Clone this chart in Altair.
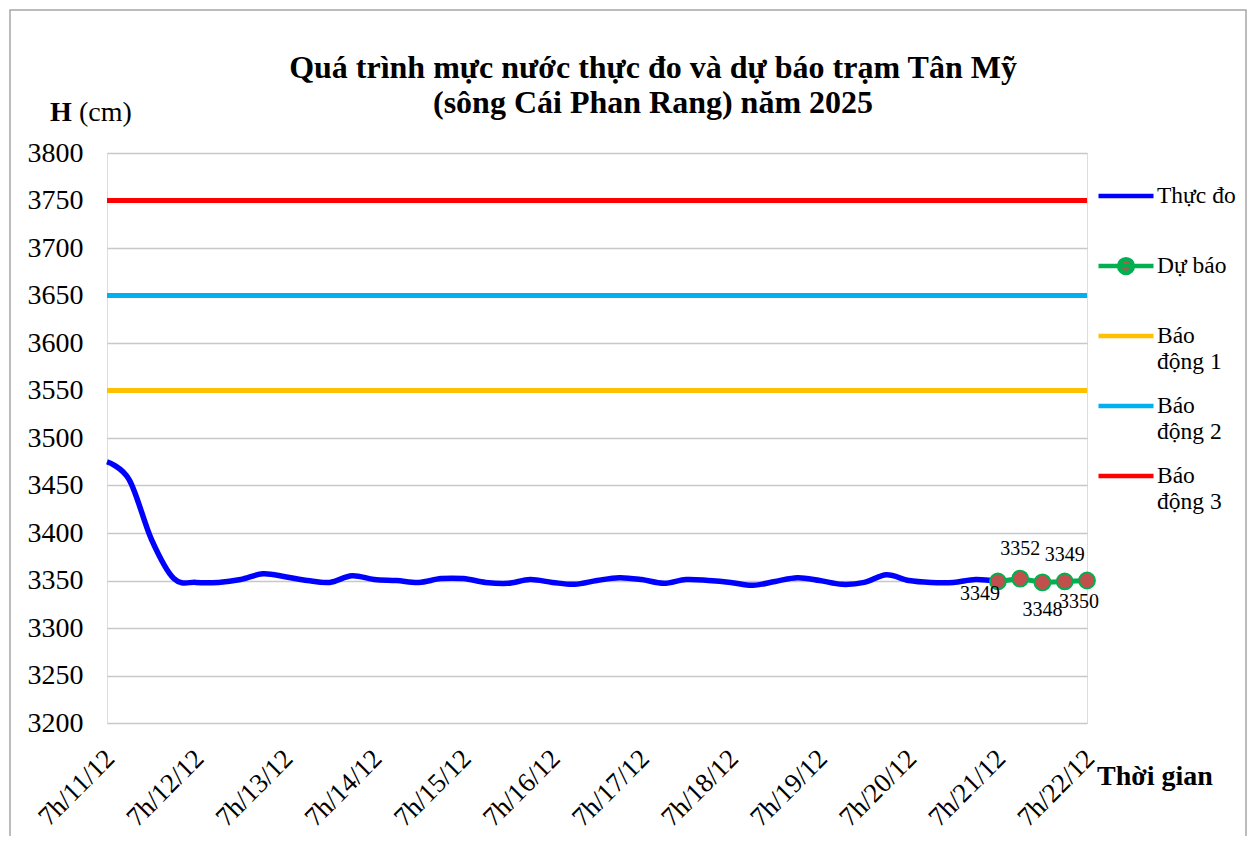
import altair as alt
import pandas as pd

# ---------------- data ----------------
tick_labels = ["7h/11/12", "7h/12/12", "7h/13/12", "7h/14/12", "7h/15/12", "7h/16/12",
               "7h/17/12", "7h/18/12", "7h/19/12", "7h/20/12", "7h/21/12", "7h/22/12"]
tick_hours = [0, 24, 48, 72, 96, 120, 144, 168, 192, 216, 240, 264]

obs_hours = list(range(0, 241, 6))
obs_values = [3475, 3456, 3393, 3352, 3348, 3348, 3351, 3357, 3354, 3350, 3348, 3355,
              3351, 3350, 3348, 3352, 3352, 3348, 3347, 3351, 3348, 3346, 3350, 3353,
              3351, 3347, 3351, 3350, 3348, 3345, 3349, 3353, 3350, 3346, 3348, 3356,
              3350, 3348, 3348, 3351, 3349]

fc_hours = [240, 246, 252, 258, 264]
fc_values = [3349, 3352, 3348, 3349, 3350]

alarm_names = ["Báo động 1", "Báo động 2", "Báo động 3"]
alarm_levels = [3550, 3650, 3750]

series_names = ["Thực đo", "Dự báo", "Báo động 1", "Báo động 2", "Báo động 3"]
series_colors = ["#0000FF", "#00B050", "#FFC000", "#00B0F0", "#FF0000"]
series_fills = ["transparent", "#C0504D", "transparent", "transparent", "transparent"]

title_lines = ["Quá trình mực nước thực đo và dự báo trạm Tân Mỹ",
               "(sông Cái Phan Rang) năm 2025"]

obs_df = pd.DataFrame({"h": obs_hours, "v": obs_values, "s": "Thực đo"})
fc_df = pd.DataFrame({"h": fc_hours, "v": fc_values, "s": "Dự báo", "k": range(len(fc_values))})
fc_df["lbl"] = fc_df["v"].astype(str)
al_df = pd.DataFrame({"v": alarm_levels, "s": alarm_names})
leg_df = pd.DataFrame({"s": series_names})

FONT = "Liberation Serif"

label_expr = "[" + ",".join("'%s'" % t for t in tick_labels) + "][round(datum.value/24)]"

x_enc = alt.X("h:Q",
              scale=alt.Scale(domain=[0, 264], nice=False, zero=False),
              axis=alt.Axis(values=tick_hours, labelExpr=label_expr, labelAngle=-45,
                            labelAlign="right", labelBaseline="middle", labelPadding=31,
                            labelOffset=3, labelFont=FONT, labelFontSize=27,
                            labelColor="black", grid=False, ticks=False, domain=False,
                            title=None, labelOverlap=False))
y_enc = alt.Y("v:Q",
              scale=alt.Scale(domain=[3200, 3800], nice=False, zero=False),
              axis=alt.Axis(values=list(range(3200, 3801, 50)), format="d", labelFont=FONT,
                            labelFontSize=28, labelColor="black", labelPadding=24,
                            grid=True, gridColor="#C8C8C8", gridWidth=1.3,
                            ticks=False, domain=False, title=None))

line_path = "M-1,0H1"
dot_path = "M-1,0H1M0.25,0A0.25,0.25,0,1,1,-0.25,0A0.25,0.25,0,1,1,0.25,0"
series_shapes = [line_path, dot_path, line_path, line_path, line_path]

legend = alt.Legend(
    title=None, orient="none", legendX=989, legendY=13,
    symbolSize=3025, symbolStrokeWidth=4.5, symbolOpacity=1,
    labelFont=FONT, labelFontSize=23.5, labelColor="black", labelLimit=0,
    labelOffset=1, rowPadding=3, labelBaseline="middle",
    labelExpr="(datum.label == 'Thực đo' || datum.label == 'Dự báo') ? [datum.label, ''] : ['Báo', slice(datum.label, 4)]",
)

stroke_enc = alt.Stroke("s:N", scale=alt.Scale(domain=series_names, range=series_colors),
                        legend=legend)
fill_enc = alt.Fill("s:N", scale=alt.Scale(domain=series_names, range=series_fills),
                    legend=legend)
shape_enc = alt.Shape("s:N", scale=alt.Scale(domain=series_names, range=series_shapes),
                      legend=legend)

alarms = alt.Chart(al_df).mark_rule(strokeWidth=5).encode(y=y_enc, stroke=stroke_enc)

obs_line = alt.Chart(obs_df).mark_line(strokeWidth=5.5, interpolate="cardinal").encode(
    x=x_enc, y=y_enc, stroke=stroke_enc)

fc_line = alt.Chart(fc_df).mark_line(strokeWidth=5).encode(x=x_enc, y=y_enc, stroke=stroke_enc)
fc_pts = alt.Chart(fc_df).mark_point(filled=True, fill="#C0504D", stroke="#00B050",
                                     strokeWidth=2, size=250, opacity=1).encode(x=x_enc, y=y_enc)

# legend-only layer (draws nothing; provides the merged legend symbols)
leg_layer = alt.Chart(leg_df).transform_filter("false").mark_point(
    opacity=1, strokeWidth=4.5).encode(stroke=stroke_enc, fill=fill_enc, shape=shape_enc)

def lab(filt, dx, dy):
    return alt.Chart(fc_df).transform_filter(filt).mark_text(
        font=FONT, fontSize=20, color="black", dx=dx, dy=dy).encode(
        x=x_enc, y=y_enc, text="lbl:N")

labels = [lab("datum.k == 0", -18, 13), lab("datum.k == 1", 0, -30),
          lab("datum.k == 2", 0, 28), lab("datum.k == 3", 0, -26),
          lab("datum.k == 4", -8, 21)]

one = pd.DataFrame({"a": [0]})

def ann(text, x, y, size=28, weight="normal", align="left", baseline="alphabetic"):
    return alt.Chart(one).mark_text(text=text, font=FONT, fontSize=size, fontWeight=weight,
                                    align=align, baseline=baseline, color="black").encode(
        x=alt.value(x), y=alt.value(y))

title1 = ann(title_lines[0], 546, -85, size=32, weight="bold", align="center", baseline="middle")
title2 = ann(title_lines[1], 546, -50, size=32, weight="bold", align="center", baseline="middle")
h_txt = ann("H", -57, -32, weight="bold")
cm_txt = ann("(cm)", -28, -32)
tg_txt = ann("Thời gian", 990, 632, weight="bold")

border = alt.Chart(one).mark_rect(fill="transparent", stroke="#A6A6A6", strokeWidth=1.5).encode(
    x=alt.value(-97), x2=alt.value(1139), y=alt.value(-143), y2=alt.value(720))

chart = alt.layer(border, alarms, obs_line, fc_line, fc_pts, leg_layer, *labels,
                  title1, title2, h_txt, cm_txt, tg_txt).properties(
    width=980, height=570,
    autosize=alt.AutoSizeParams(type="none"),
    padding={"left": 99, "top": 145, "right": 160, "bottom": 113},
).configure_view(stroke="#A0A0A0", strokeWidth=1.5).configure(background="white")

chart.save("out.html", embed_options={"renderer": "svg", "actions": False})
